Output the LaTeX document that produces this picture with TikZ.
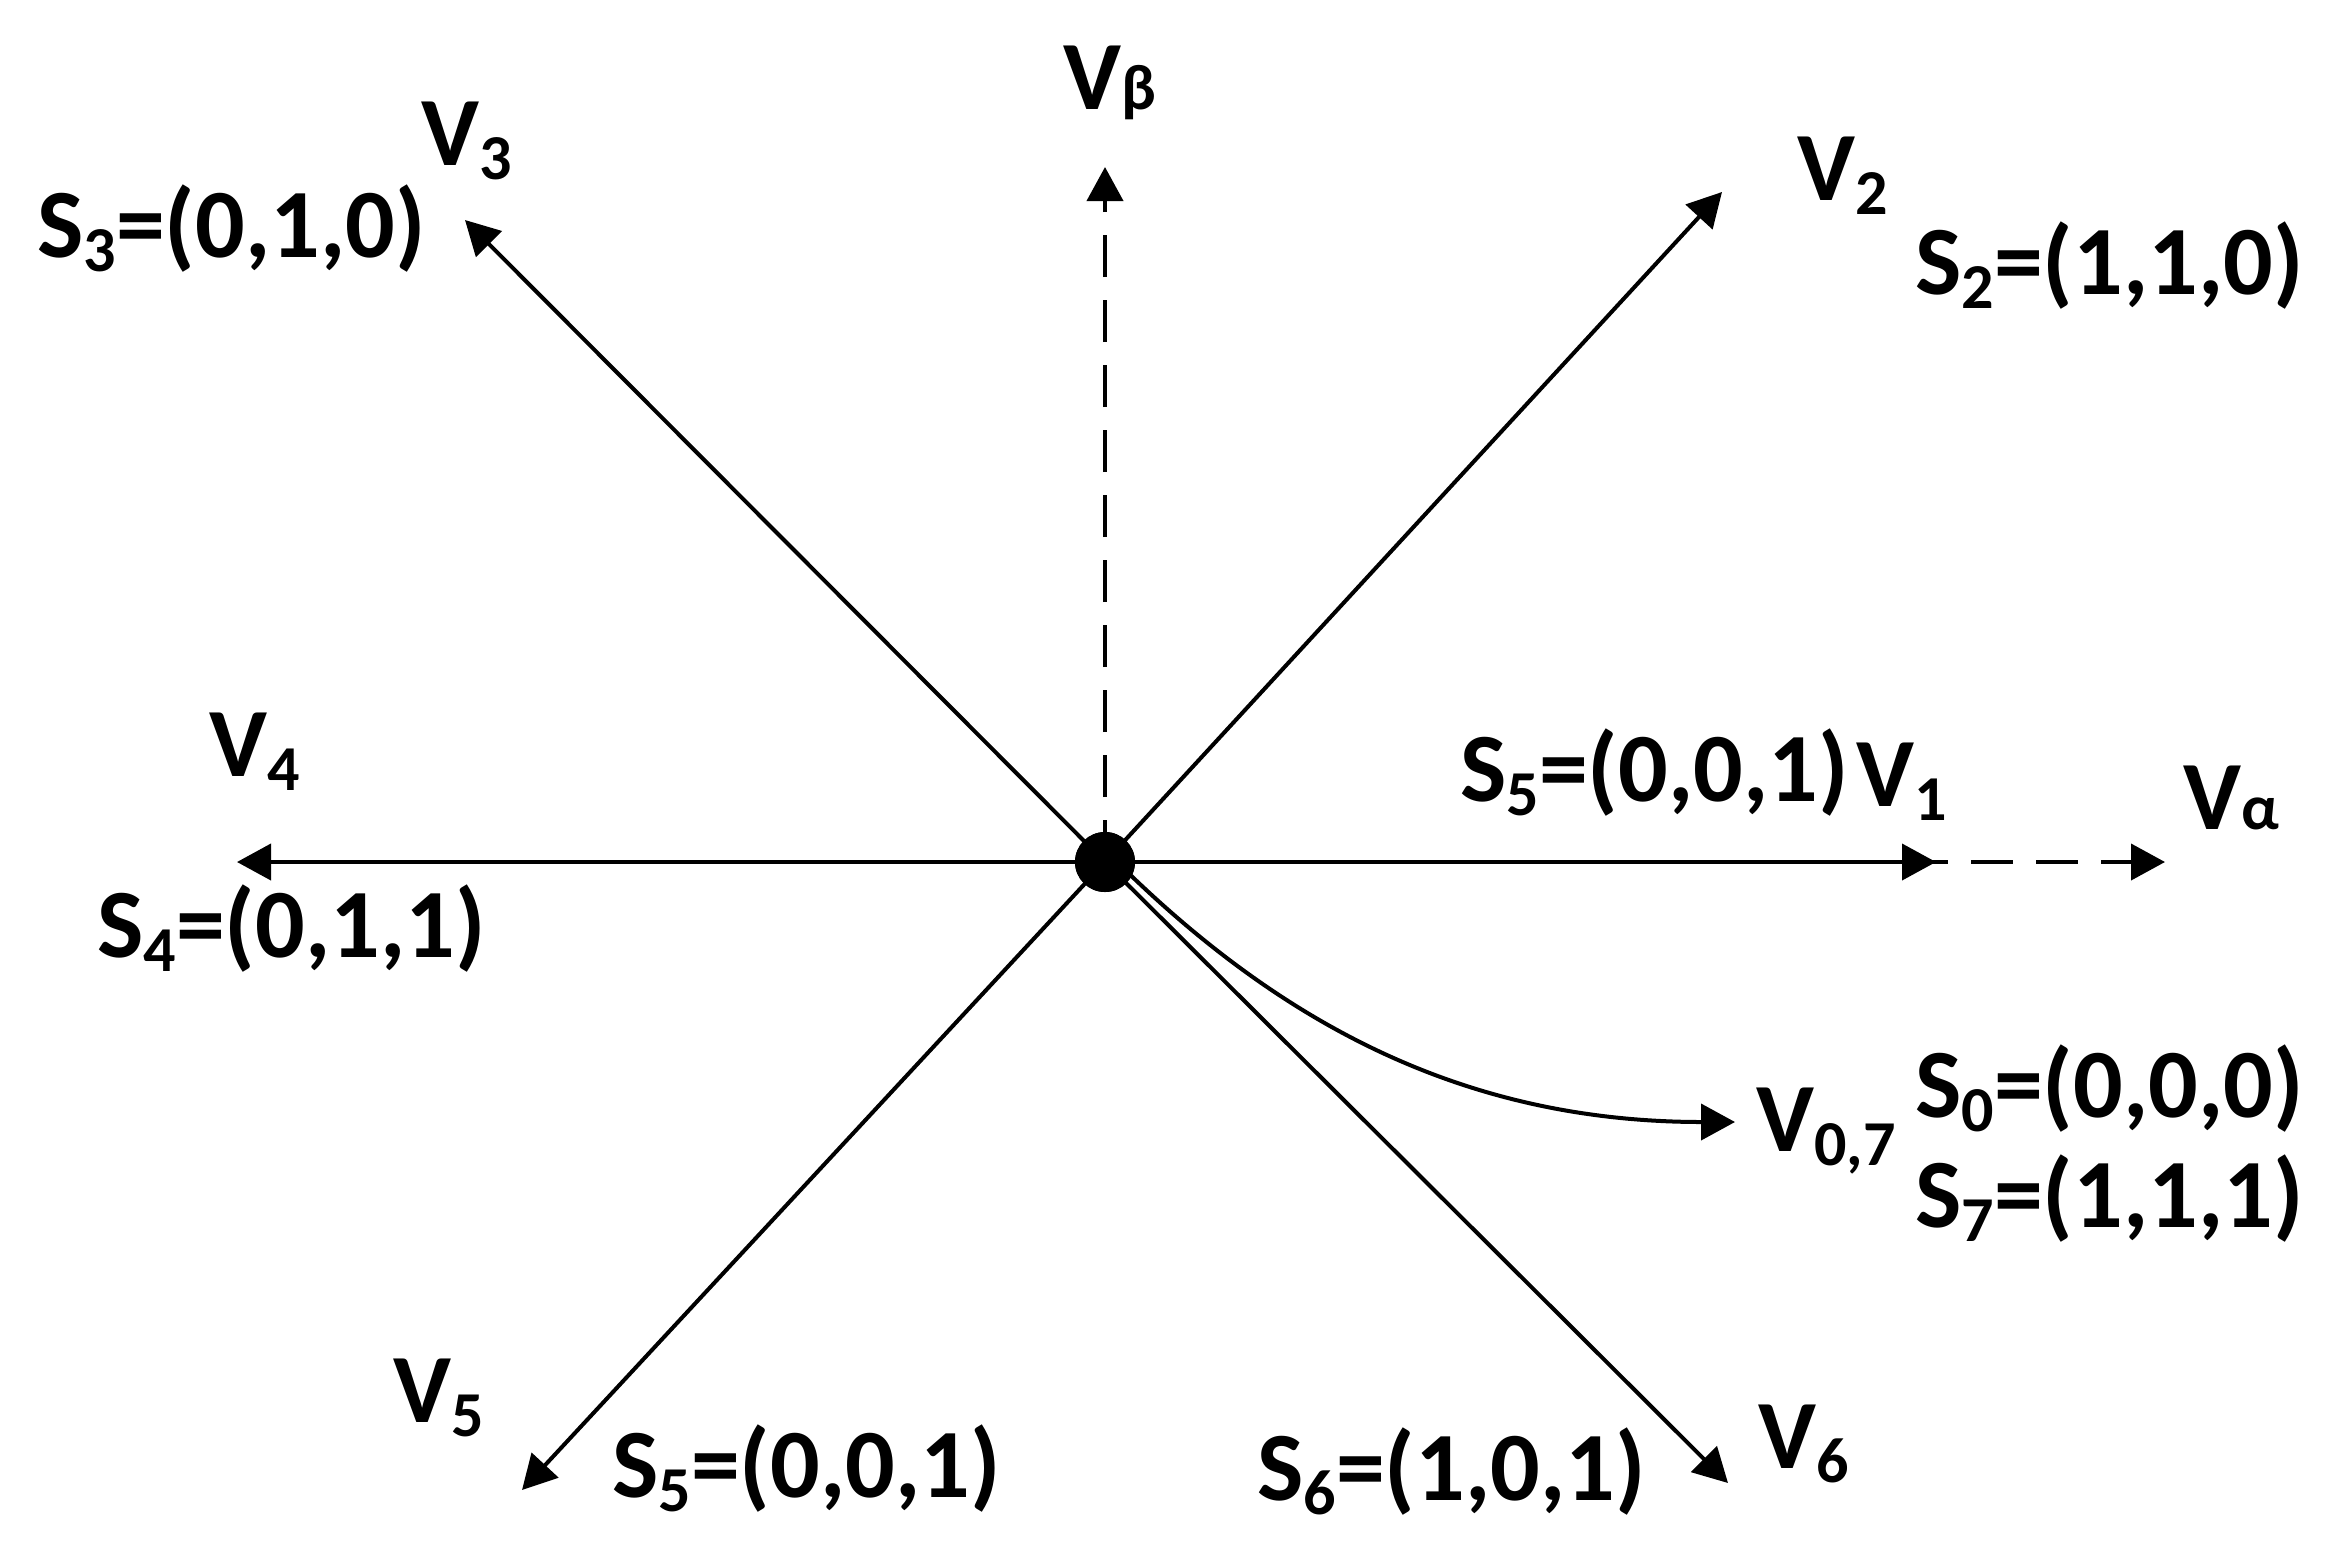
\documentclass[tikz,border=0pt]{standalone}
\usepackage{fontspec}
\setmainfont{Carlito}
\usetikzlibrary{arrows.meta}
\newcommand{\sbs}[1]{\raisebox{-7pt}{\fontsize{32}{34}\selectfont #1}}
\newcommand{\gsb}[1]{{\fontsize{32}{34}\selectfont #1}}
\begin{document}
\begin{tikzpicture}[x=0.5pt,y=-0.5pt,
  vec/.style={line width=2pt,-{Triangle[length=17pt,width=18pt]}},
  dsh/.style={vec,dash pattern=on 21pt off 11.5pt},
  lab/.style={font=\fontsize{49}{58}\selectfont\bfseries,inner sep=0pt,anchor=base west}]
\useasboundingbox (0,0) rectangle (2341,1560);
% free ends
\coordinate (t1) at (1936,862);
\coordinate (ta) at (2165,862);
\coordinate (tb) at (1105,167);
\coordinate (t2) at (1722,192);
\coordinate (t3) at (465,220);
\coordinate (t4) at (237,862);
\coordinate (t5) at (522,1490);
\coordinate (t6) at (1728,1483);
\coordinate (t07) at (1735,1122);
\coordinate (s07) at (1111,856);
\node[circle,fill,inner sep=0pt,minimum size=30pt] (c) at (1105,862) {};
% vectors
\draw[dsh] (c.center) -- (tb);
\draw[dsh] (t1) ++(-30,0) coordinate (ab) (ab) -- (ta);
\draw[vec] (c.center) -- (t1);
\draw[vec] (c.center) -- (t2);
\draw[vec] (c.center) -- (t3);
\draw[vec] (c.center) -- (t4);
\draw[vec] (c.center) -- (t5);
\draw[vec] (c.center) -- (t6);
\draw[vec] (s07) .. controls (1275,1020) and (1460,1122) .. (t07);
\node[circle,fill,inner sep=0pt,minimum size=30pt] at (c) {};
% labels
\node[lab] (lb) at (1063,109) {V\gsb{β}};
\node[lab] (l3) at (421,165) {V\sbs{3}};
\node[lab] (s3) at (37,257) {S\sbs{3}=(0,1,0)};
\node[lab] (l2) at (1797,200) {V\sbs{2}};
\node[lab] (s2) at (1915,294) {S\sbs{2}=(1,1,0)};
\node[lab] (l4) at (209,776) {V\sbs{4}};
\node[lab] (s4) at (97,957) {S\sbs{4}=(0,1,1)};
\node[lab] (s5a) at (1460,801) {S\sbs{5}=(0,0,1)};
\node[lab] (l1) at (1856,806) {V\sbs{1}};
\node[lab] (la) at (2183,829) {V\gsb{α}};
\node[lab] (l07) at (1756,1151) {V\sbs{0,7}};
\node[lab] (s0) at (1915,1117) {S\sbs{0}=(0,0,0)};
\node[lab] (s7) at (1915,1227) {S\sbs{7}=(1,1,1)};
\node[lab] (l5) at (393,1422) {V\sbs{5}};
\node[lab] (s5b) at (612,1497) {S\sbs{5}=(0,0,1)};
\node[lab] (s6) at (1257,1500) {S\sbs{6}=(1,0,1)};
\node[lab] (l6) at (1758,1468) {V\sbs{6}};
\end{tikzpicture}
\end{document}
